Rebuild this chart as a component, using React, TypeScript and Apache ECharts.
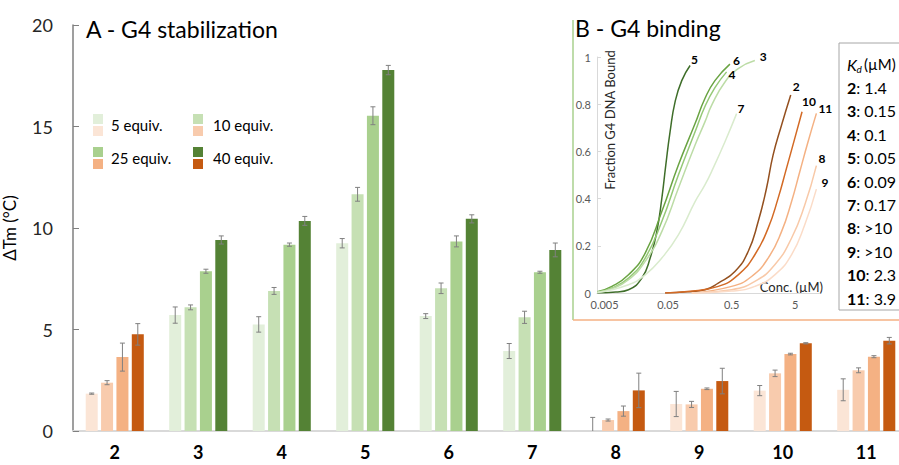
import React, { useEffect, useRef } from 'react';
import * as echarts from 'echarts';

// ---------- Panel A data ----------
const compounds = ['2', '3', '4', '5', '6', '7', '8', '9', '10', '11'];
const orangeCompounds = ['2', '8', '9', '10', '11'];
const equivLabels = ['5 equiv.', '10 equiv.', '25 equiv.', '40 equiv.'];
const greenShades = ['#e2efda', '#c6e0b4', '#a9d08e', '#548235'];
const orangeShades = ['#fbe5d6', '#f8cbad', '#f4b183', '#c55a11'];

const dTm5 = [1.84, 5.71, 5.25, 9.25, 5.66, 3.94, 0, 1.33, 1.99, 2.03];
const dTm5Err = [0.03, 0.4, 0.38, 0.23, 0.12, 0.37, 0.67, 0.62, 0.25, 0.54];
const dTm10 = [2.38, 6.09, 6.9, 11.66, 7.03, 5.6, 0.54, 1.31, 2.84, 2.99];
const dTm10Err = [0.1, 0.12, 0.17, 0.34, 0.26, 0.3, 0.05, 0.15, 0.16, 0.12];
const dTm25 = [3.64, 7.87, 9.18, 15.53, 9.34, 7.82, 0.98, 2.08, 3.79, 3.66];
const dTm25Err = [0.69, 0.1, 0.08, 0.44, 0.27, 0.05, 0.25, 0.04, 0.04, 0.05];
const dTm40 = [4.76, 9.41, 10.35, 17.78, 10.45, 8.92, 2.0, 2.46, 4.32, 4.45];
const dTm40Err = [0.53, 0.2, 0.22, 0.23, 0.2, 0.34, 0.85, 0.63, 0.03, 0.16];

// ---------- Panel B data (conc in µM, fraction bound) ----------
const concTicks = [0.005, 0.05, 0.5, 5];
const concTickLabels = ['0.005', '0.05', '0.5', '5'];

const c5Conc = [0.00384, 0.0075, 0.0119, 0.0193, 0.0261, 0.0332, 0.0398, 0.046, 0.0537, 0.0644, 0.082, 0.111];
const c5Frac = [0, 0.004, 0.014, 0.063, 0.148, 0.26, 0.4, 0.542, 0.683, 0.81, 0.9, 0.964];
const c6Conc = [0.00384, 0.00653, 0.0119, 0.0218, 0.0398, 0.0726, 0.133, 0.19, 0.273, 0.47];
const c6Frac = [0.005, 0.028, 0.077, 0.169, 0.345, 0.542, 0.718, 0.824, 0.9, 0.97];
const c4Conc = [0.00384, 0.00653, 0.0119, 0.0218, 0.0398, 0.0726, 0.133, 0.19, 0.273, 0.417];
const c4Frac = [0.004, 0.021, 0.063, 0.148, 0.303, 0.5, 0.683, 0.79, 0.87, 0.937];
const c3Conc = [0.00384, 0.00653, 0.0119, 0.0218, 0.0398, 0.0726, 0.133, 0.19, 0.243, 0.393, 0.635, 1.16];
const c3Frac = [0.003, 0.018, 0.056, 0.134, 0.26, 0.444, 0.627, 0.725, 0.796, 0.894, 0.951, 0.985];
const c7Conc = [0.00384, 0.0119, 0.0218, 0.0398, 0.0726, 0.133, 0.19, 0.257, 0.393, 0.599];
const c7Frac = [0.002, 0.035, 0.077, 0.148, 0.246, 0.387, 0.458, 0.53, 0.641, 0.76];
const c2Conc = [0.0449, 0.1, 0.19, 0.308, 0.563, 0.911, 1.31, 1.77, 2.25, 3.05, 4.26];
const c2Frac = [0, 0.005, 0.014, 0.042, 0.091, 0.176, 0.303, 0.444, 0.585, 0.711, 0.839];
const c10Conc = [0.0449, 0.1, 0.308, 0.635, 1.16, 1.88, 2.7, 3.65, 4.93, 6.42];
const c10Frac = [0, 0.006, 0.028, 0.077, 0.162, 0.275, 0.402, 0.528, 0.655, 0.768];
const c11Conc = [0.118, 0.5, 1.03, 1.88, 3.05, 4.38, 5.91, 7.98, 10.8];
const c11Frac = [0, 0.028, 0.07, 0.148, 0.26, 0.387, 0.514, 0.641, 0.761];
const c8Conc = [0.118, 0.5, 1.16, 2.39, 4.38, 7.08, 10.8];
const c8Frac = [0, 0.014, 0.049, 0.12, 0.232, 0.373, 0.54];
const c9Conc = [0.118, 0.5, 1.16, 2.39, 4.38, 7.08, 10.8];
const c9Frac = [0, 0.008, 0.028, 0.077, 0.162, 0.289, 0.44];

const kdIds = ['2', '3', '4', '5', '6', '7', '8', '9', '10', '11'];
const kdValues = ['1.4', '0.15', '0.1', '0.05', '0.09', '0.17', '>10', '>10', '2.3', '3.9'];

const FF = "Lato, 'Open Sans', sans-serif";

const curves = [
  { id: '5', conc: c5Conc, frac: c5Frac, color: '#3f6e2a', off: [-7, -6] },
  { id: '6', conc: c6Conc, frac: c6Frac, color: '#6aa443', off: [-5, -4] },
  { id: '4', conc: c4Conc, frac: c4Frac, color: '#95c977', off: [-6, 3] },
  { id: '3', conc: c3Conc, frac: c3Frac, color: '#bcdca6', off: [-3, -4] },
  { id: '7', conc: c7Conc, frac: c7Frac, color: '#d9ebcd', off: [-7, -5] },
  { id: '2', conc: c2Conc, frac: c2Frac, color: '#94501f', off: [-6, -8] },
  { id: '10', conc: c10Conc, frac: c10Frac, color: '#d36a25', off: [-8, -10] },
  { id: '11', conc: c11Conc, frac: c11Frac, color: '#f4b183', off: [-6, -5] },
  { id: '8', conc: c8Conc, frac: c8Frac, color: '#f8c9a8', off: [-6, -7] },
  { id: '9', conc: c9Conc, frac: c9Frac, color: '#fbdcc8', off: [-3, -7] },
];

const BAR_W = 12;
const BAR_GAP = 0.28;

export default function App() {
  const ref = useRef<HTMLDivElement>(null);
  useEffect(() => {
    if (!ref.current) return;
    const chart = echarts.init(ref.current, null, { renderer: 'svg' });
    const barSets = [
      [dTm5, dTm5Err],
      [dTm10, dTm10Err],
      [dTm25, dTm25Err],
      [dTm40, dTm40Err],
    ];
    const step = BAR_W * (1 + BAR_GAP);
    const isOrange = (i: number) => orangeCompounds.includes(compounds[i]);

    const barSeries = barSets.map(([vals], s) => ({
      type: 'bar',
      name: equivLabels[s],
      xAxisIndex: 0,
      yAxisIndex: 0,
      barWidth: BAR_W,
      barGap: `${BAR_GAP * 100}%`,
      data: vals.map((v, i) => ({
        value: v,
        itemStyle: { color: isOrange(i) ? orangeShades[s] : greenShades[s] },
      })),
    }));

    const errSeries = barSets.map(([vals, errs], s) => ({
      type: 'custom',
      xAxisIndex: 0,
      yAxisIndex: 0,
      z: 5,
      data: vals.map((v, i) => [i, v, errs[i]]),
      renderItem: (params: any, api: any) => {
        const i = api.value(0);
        const v = api.value(1);
        const e = api.value(2);
        const off = (s - 1.5) * step;
        const top = api.coord([i, v + e]);
        const lowV = Math.max(0, v - e);
        const bot = api.coord([i, lowV]);
        const x = top[0] + off;
        const cw = 2.5;
        const st = { stroke: '#808080', lineWidth: 1 };
        const children: any[] = [
          { type: 'line', shape: { x1: x, y1: top[1], x2: x, y2: bot[1] }, style: st },
          { type: 'line', shape: { x1: x - cw, y1: top[1], x2: x + cw, y2: top[1] }, style: st },
        ];
        if (v - e > 0) {
          children.push({ type: 'line', shape: { x1: x - cw, y1: bot[1], x2: x + cw, y2: bot[1] }, style: st });
        }
        return { type: 'group', children };
      },
    }));

    const lineSeries = curves.map((c) => ({
      type: 'line',
      name: c.id,
      xAxisIndex: 1,
      yAxisIndex: 1,
      showSymbol: false,
      smooth: 0.5,
      lineStyle: { color: c.color, width: 1.5 },
      itemStyle: { color: c.color },
      data: c.conc.map((x, k) => [Math.log10(x), c.frac[k]]),
      endLabel: {
        show: true,
        formatter: c.id,
        offset: c.off,
        fontFamily: FF,
        fontWeight: 'bold',
        fontSize: 12,
        color: '#000',
      },
      z: 3,
    }));

    const legendGraphics: any[] = [];
    equivLabels.forEach((lab, i) => {
      const col = i % 2;
      const row = Math.floor(i / 2);
      const sx = [93, 193][col];
      const gy = [114, 147][row];
      legendGraphics.push(
        { type: 'rect', shape: { x: sx, y: gy, width: 10, height: 10 }, style: { fill: greenShades[i] } },
        { type: 'rect', shape: { x: sx, y: gy + 12, width: 10, height: 10 }, style: { fill: orangeShades[i] } },
        {
          type: 'text',
          x: [111, 213][col],
          y: gy + 11,
          style: { text: lab, fontFamily: FF, fontSize: 15, fill: '#000', verticalAlign: 'middle' },
        }
      );
    });

    const kdGraphics: any[] = [
      { type: 'rect', shape: { x: 839, y: 43, width: 80, height: 267 }, style: { fill: '#fff', stroke: '#a6a6a6', lineWidth: 1 } },
      { type: 'text', x: 847, y: 64, style: { text: 'K', fontFamily: FF, fontSize: 16, fontStyle: 'italic', fill: '#000', verticalAlign: 'middle' } },
      { type: 'text', x: 856.5, y: 69, style: { text: 'd', fontFamily: FF, fontSize: 10, fontStyle: 'italic', fill: '#000', verticalAlign: 'middle' } },
      { type: 'text', x: 864, y: 64, style: { text: '(µM)', fontFamily: FF, fontSize: 15, fill: '#000', verticalAlign: 'middle' } },
    ];
    kdIds.forEach((id, i) => {
      kdGraphics.push({
        type: 'text',
        x: 847,
        y: 87.5 + i * 23.4,
        style: {
          text: `{b|${id}}{n|: ${kdValues[i]}}`,
          verticalAlign: 'middle',
          rich: {
            b: { fontFamily: FF, fontSize: 16, fontWeight: 'bold', fill: '#000' },
            n: { fontFamily: FF, fontSize: 16, fill: '#000' },
          },
        },
      });
    });

    const option: any = {
      animation: false,
      backgroundColor: '#fff',
      title: [
        { text: 'A - G4 stabilization', left: 86, top: 17, padding: 0, textStyle: { fontFamily: FF, fontSize: 23, fontWeight: 'normal', color: '#000' } },
        { text: 'B - G4 binding', left: 575, top: 16, padding: 0, textStyle: { fontFamily: FF, fontSize: 23, fontWeight: 'normal', color: '#000' } },
      ],
      grid: [
        { left: 73, top: 25, width: 835, height: 406, outerBoundsMode: 'none' },
        { left: 597, top: 57, width: 223, height: 236, outerBoundsMode: 'none' },
      ],
      xAxis: [
        {
          type: 'category',
          gridIndex: 0,
          data: compounds,
          axisLine: { lineStyle: { color: '#d9d9d9', width: 2 } },
          axisTick: { show: false },
          axisLabel: { fontFamily: FF, fontSize: 18, fontWeight: 'bold', color: '#000', margin: 12 },
        },
        {
          type: 'value',
          gridIndex: 1,
          min: -2.42,
          max: 1.09,
          splitLine: { show: false },
          axisLine: { show: true, onZero: false, lineStyle: { color: '#d9d9d9' } },
          axisTick: { show: false },
          axisLabel: {
            customValues: concTicks.map((c) => Math.log10(c)),
            formatter: (v: number) => {
              let best = 0;
              concTicks.forEach((c, k) => {
                if (Math.abs(Math.log10(c) - v) < Math.abs(Math.log10(concTicks[best]) - v)) best = k;
              });
              return concTickLabels[best];
            },
            fontFamily: FF,
            fontSize: 11,
            color: '#595959',
            margin: 6,
          },
        },
      ],
      yAxis: [
        {
          type: 'value',
          gridIndex: 0,
          min: 0,
          max: 20,
          interval: 5,
          name: 'ΔTm (°C)',
          nameLocation: 'middle',
          nameRotate: 90,
          nameGap: 55,
          nameTextStyle: { fontFamily: FF, fontSize: 17, color: '#000' },
          splitLine: { show: false },
          axisLine: { show: true, lineStyle: { color: '#7f7f7f', width: 1.5 } },
          axisTick: { show: true, inside: true, length: 6, lineStyle: { color: '#7f7f7f' } },
          axisLabel: { fontFamily: FF, fontSize: 18, color: '#262626', margin: 20 },
        },
        {
          type: 'value',
          gridIndex: 1,
          min: 0,
          max: 1,
          interval: 0.2,
          splitLine: { show: false },
          axisLine: { show: true, onZero: false, lineStyle: { color: '#d9d9d9' } },
          axisTick: { show: true, inside: true, length: 4, lineStyle: { color: '#d9d9d9' } },
          axisLabel: { fontFamily: FF, fontSize: 11, color: '#595959', margin: 6 },
        },
      ],
      graphic: [
        { type: 'line', shape: { x1: 573, y1: 20, x2: 573, y2: 320 }, style: { stroke: '#a9d08e', lineWidth: 1.5 } },
        { type: 'line', shape: { x1: 573, y1: 320, x2: 899, y2: 320 }, style: { stroke: '#f4b183', lineWidth: 1.5 } },
        {
          type: 'text',
          x: 610,
          y: 120,
          rotation: Math.PI / 2,
          style: { text: 'Fraction G4 DNA Bound', fontFamily: FF, fontSize: 13, fill: '#262626', align: 'center', verticalAlign: 'middle' },
        },
        {
          type: 'text',
          x: 823,
          y: 287,
          style: { text: 'Conc. (µM)', fontFamily: FF, fontSize: 13, fill: '#262626', align: 'right', verticalAlign: 'middle' },
        },
        ...legendGraphics,
        ...kdGraphics,
      ],
      series: [...barSeries, ...errSeries, ...lineSeries],
    };
    chart.setOption(option);
    return () => chart.dispose();
  }, []);
  return <div ref={ref} style={{ position: 'fixed', left: 0, top: 0, width: 899, height: 465 }} />;
}
